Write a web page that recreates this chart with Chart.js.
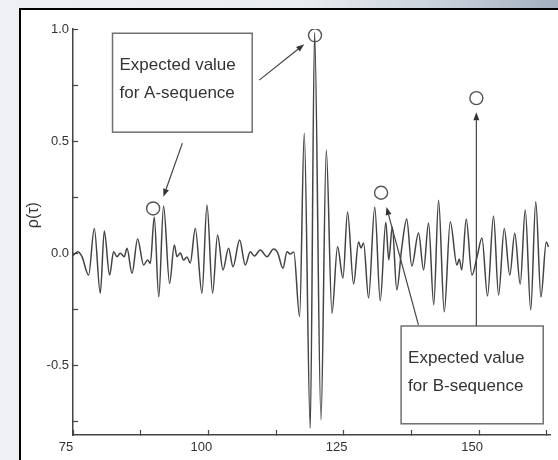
<!DOCTYPE html>
<html>
<head>
<meta charset="utf-8">
<script src="https://cdn.jsdelivr.net/npm/chart.js@4/dist/chart.umd.min.js"></script>
<style>
  html, body { margin: 0; padding: 0; }
  body {
    width: 558px; height: 460px; overflow: hidden; position: relative;
    background: linear-gradient(to right, #eef0f3 0%, #e8ebef 55%, #c4cdd7 82%, #a3b0bf 100%);
  }
  #panel {
    position: absolute; left: 19px; top: 8px; right: 0; bottom: 0;
    background: #fff; border-left: 2px solid #000; border-top: 2px solid #000;
  }
  #chart { position: absolute; left: 0; top: 0; }
</style>
</head>
<body>
<div id="panel"></div>
<canvas id="chart" width="558" height="460"></canvas>
<script>
// lag τ and correlation ρ(τ), read at the turning points of the trace
const lagX = [
  75.0, 75.85, 76.66, 77.88, 78.93, 80.04, 80.78, 81.76, 82.50, 83.13,
  83.73, 84.47, 84.97, 85.90, 86.93, 88.04, 88.78, 89.28, 90.01, 90.84,
  91.73, 92.84, 93.71, 94.21, 94.82, 95.42, 96.05, 96.66, 97.59, 98.82,
  99.75, 100.78, 101.70, 102.70, 103.73, 104.55, 105.77, 106.82, 107.74, 108.48,
  109.59, 110.83, 112.05, 112.82, 113.78, 114.52, 115.13, 115.78, 116.85, 117.71,
  118.82, 119.62, 120.80, 121.78, 122.83, 123.86, 124.86, 125.71, 126.82, 127.74,
  128.19, 128.67, 129.59, 130.73, 131.75, 132.77, 133.32, 133.97, 134.80, 135.72,
  136.64, 137.57, 138.82, 139.75, 140.67, 141.63, 142.52, 143.57, 144.68, 145.91,
  146.34, 146.80, 147.63, 148.68, 149.66, 150.53, 151.56, 152.67, 153.60, 154.65,
  155.67, 156.59, 157.60, 158.53, 159.54, 160.47, 161.43, 162.41, 162.83
];
const rho = [
  -0.010, 0.007, -0.015, -0.097, 0.111, -0.178, 0.099, -0.097, 0.007, -0.015,
  0.000, -0.015, 0.022, -0.089, 0.064, -0.052, -0.030, -0.045, 0.162, -0.195,
  0.211, -0.134, 0.037, -0.015, 0.001, -0.030, -0.016, -0.043, 0.111, -0.178,
  0.215, -0.178, 0.082, -0.074, 0.022, -0.060, 0.059, -0.052, 0.007, -0.012,
  0.015, -0.015, 0.019, 0.001, -0.067, 0.007, -0.003, 0.006, -0.282, 0.535,
  -0.780, 0.986, -0.743, 0.460, -0.267, 0.029, -0.110, 0.184, -0.137, 0.050,
  0.024, 0.046, -0.199, 0.206, -0.212, 0.139, -0.030, 0.117, -0.163, 0.024,
  0.153, -0.057, 0.090, -0.074, 0.135, -0.230, 0.237, -0.261, 0.141, -0.052,
  -0.025, -0.074, 0.153, -0.097, -0.012, 0.068, -0.190, 0.166, -0.186, 0.111,
  -0.097, 0.089, -0.137, 0.193, -0.253, 0.230, -0.195, 0.050, 0.028
];

// circled expected values
const expectedX = [89.8, 119.7, 131.9, 149.5];
const expectedRho = [0.200, 0.972, 0.270, 0.692];

// axis ranges and tick steps
const X_MIN = 75, X_MAX = 163.1, X_STEP = 12.5, X_LABEL_STEP = 25;
const Y_MIN = -0.81, Y_MAX = 1.0, Y_STEP = 0.25, Y_LABEL_STEP = 0.5;

// callout boxes and arrows, in data units
const notes = [
  { lines: ['Expected value', 'for A-sequence'], x0: 82.3, x1: 108.1, y0: 0.981, y1: 0.540 },
  { lines: ['Expected value', 'for B-sequence'], x0: 135.6, x1: 161.85, y0: -0.324, y1: -0.760 },
];
const arrows = [
  { from: [95.2, 0.491], to: [91.7, 0.252] },
  { from: [109.4, 0.772], to: [117.7, 0.932] },
  { from: [138.8, -0.319], to: [132.9, 0.206] },
  { from: [149.5, -0.324], to: [149.5, 0.629] },
];

const FONT = '"Liberation Sans", Arial, sans-serif';
const INK = '#333';

const isMultiple = (v, step) => Math.abs(v / step - Math.round(v / step)) < 1e-6;

const notesPlugin = {
    id: 'notes',
    afterDatasetsDraw(chart) {
        const { ctx } = chart;
        const xs = chart.scales.x, ys = chart.scales.y;
        ctx.save();

        // y axis title
        ctx.save();
        ctx.translate(34, ys.getPixelForValue(0.17));
        ctx.rotate(-Math.PI / 2);
        ctx.fillStyle = INK;
        ctx.font = '16px ' + FONT;
        ctx.textAlign = 'center';
        ctx.textBaseline = 'middle';
        ctx.fillText('ρ(τ)', 0, 0);
        ctx.restore();

        for (const n of notes) {
            const l = xs.getPixelForValue(n.x0), r = xs.getPixelForValue(n.x1);
            const t = ys.getPixelForValue(n.y0), b = ys.getPixelForValue(n.y1);
            ctx.fillStyle = '#fff';
            ctx.fillRect(l, t, r - l, b - t);
            ctx.strokeStyle = '#707070';
            ctx.lineWidth = 1.5;
            ctx.strokeRect(l, t, r - l, b - t);
            ctx.fillStyle = INK;
            ctx.font = '17px ' + FONT;
            ctx.textAlign = 'left';
            ctx.textBaseline = 'middle';
            n.lines.forEach((s, i) => ctx.fillText(s, l + 7, t + 32 + i * 28));
        }

        for (const a of arrows) {
            const x0 = xs.getPixelForValue(a.from[0]), y0 = ys.getPixelForValue(a.from[1]);
            const x1 = xs.getPixelForValue(a.to[0]), y1 = ys.getPixelForValue(a.to[1]);
            const ang = Math.atan2(y1 - y0, x1 - x0);
            const c = Math.cos(ang), s = Math.sin(ang);
            const head = 8, half = 3;
            ctx.strokeStyle = '#444';
            ctx.lineWidth = 1.2;
            ctx.beginPath();
            ctx.moveTo(x0, y0);
            ctx.lineTo(x1 - head * c, y1 - head * s);
            ctx.stroke();
            ctx.fillStyle = '#333';
            ctx.beginPath();
            ctx.moveTo(x1, y1);
            ctx.lineTo(x1 - head * c + half * s, y1 - head * s - half * c);
            ctx.lineTo(x1 - head * c - half * s, y1 - head * s + half * c);
            ctx.closePath();
            ctx.fill();
        }
        ctx.restore();
    }
};

new Chart(document.getElementById('chart'), {
    type: 'line',
    data: {
        datasets: [
            {
                label: 'expected',
                data: expectedX.map((x, i) => ({ x, y: expectedRho[i] })),
                showLine: false,
                pointRadius: 6.5,
                pointBorderWidth: 1.4,
                pointBorderColor: '#555',
                pointBackgroundColor: 'rgba(255,255,255,0)',
            },
            {
                label: 'rho',
                data: lagX.map((x, i) => ({ x, y: rho[i] })),
                borderColor: '#444',
                borderWidth: 1.5,
                pointRadius: 0,
                cubicInterpolationMode: 'monotone',
            },
        ],
    },
    options: {
        responsive: false,
        animation: false,
        devicePixelRatio: 1,
        layout: { padding: { top: 29, right: 8, left: 0, bottom: 0 } },
        plugins: {
            legend: { display: false },
            tooltip: { enabled: false },
        },
        scales: {
            x: {
                type: 'linear',
                min: X_MIN,
                max: X_MAX,
                afterFit(scale) { scale.height = 25; },
                grid: { drawOnChartArea: false, tickLength: -5, color: '#444', tickWidth: 1.2 },
                border: { color: '#444', width: 1.5 },
                ticks: {
                    stepSize: X_STEP,
                    includeBounds: false,
                    autoSkip: false,
                    maxRotation: 0,
                    padding: 10,
                    labelOffset: -7,
                    color: INK,
                    font: { family: FONT, size: 13 },
                    callback: v => isMultiple(v, X_LABEL_STEP) ? String(v) : '',
                },
            },
            y: {
                min: Y_MIN,
                max: Y_MAX,
                afterFit(scale) { scale.width = 73; },
                grid: { drawOnChartArea: false, tickLength: -5, color: '#444', tickWidth: 1.2 },
                border: { color: '#444', width: 1.5 },
                ticks: {
                    stepSize: Y_STEP,
                    includeBounds: false,
                    padding: 9,
                    color: INK,
                    font: { family: FONT, size: 13 },
                    callback: v => isMultiple(v, Y_LABEL_STEP) ? v.toFixed(1) : '',
                },
            },
        },
    },
    plugins: [notesPlugin],
});
</script>
</body>
</html>
